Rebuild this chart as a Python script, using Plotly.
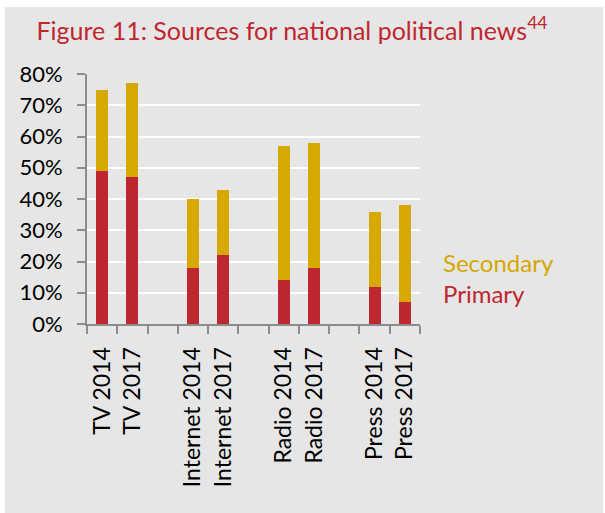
import plotly.graph_objects as go

categories = ["TV 2014", "TV 2017", "", "Internet 2014", "Internet 2017", "",
              "Radio 2014", "Radio 2017", "", "Press 2014", "Press 2017"]
primary = [49, 47, None, 18, 22, None, 14, 18, None, 12, 7]
secondary = [26, 30, None, 22, 21, None, 43, 40, None, 24, 31]
y_ticks = [0, 10, 20, 30, 40, 50, 60, 70, 80]
y_labels = [f"{v}%" for v in y_ticks]

positions = list(range(len(categories)))
label_pos = [p for p, c in zip(positions, categories) if c]
label_txt = [c for c in categories if c]

RED = "#BE2630"
GOLD = "#D6A800"
FONT = "Lato"

fig = go.Figure()
fig.add_trace(go.Bar(x=positions, y=primary, name="Primary", marker_color=RED,
                     width=0.4, marker_line_width=0))
fig.add_trace(go.Bar(x=positions, y=secondary, name="Secondary", marker_color=GOLD,
                     width=0.4, marker_line_width=0))

L, R, T, B = 87, 420, 74, 324
W, H = 605, 513
pw, ph = R - L, B - T

def px(x):
    return (x - L) / pw

def py(y):
    return (B - y) / ph

fig.add_shape(type="rect", xref="paper", yref="paper",
              x0=px(5), x1=px(603), y0=py(513), y1=py(7),
              fillcolor="#E6E6E6", line_width=0, layer="below")

fig.add_annotation(xref="paper", yref="paper", x=px(441), y=py(262), text="Secondary",
                   showarrow=False, xanchor="left", yanchor="middle",
                   font=dict(family=FONT, size=24, color=GOLD))
fig.add_annotation(xref="paper", yref="paper", x=px(441), y=py(293), text="Primary",
                   showarrow=False, xanchor="left", yanchor="middle",
                   font=dict(family=FONT, size=24, color=RED))

fig.update_layout(
    width=W, height=H,
    barmode="stack",
    showlegend=False,
    paper_bgcolor="white",
    plot_bgcolor="rgba(0,0,0,0)",
    margin=dict(l=L, r=W - R, t=T, b=H - B, pad=0),
    font=dict(family=FONT, size=20, color="black"),
    title=dict(text="Figure 11: Sources for national political news<sup>44</sup>",
               xref="container", yref="container", x=292 / W, y=1 - 31 / H,
               xanchor="center", yanchor="middle",
               font=dict(family=FONT, size=25, color="#C0272D")),
    xaxis=dict(range=[-0.5, len(categories) - 0.5],
               tickvals=label_pos, ticktext=label_txt, ticks="",
               minor=dict(tick0=-0.5, dtick=1, ticks="outside", ticklen=8,
                          tickwidth=2, tickcolor="#8C8C8C", showgrid=False),
               showline=True, linecolor="#8C8C8C", linewidth=2,
               showgrid=False, zeroline=False, tickangle=-90, ticklabelstandoff=12,
               tickfont=dict(family=FONT, size=23, color="black")),
    yaxis=dict(range=[0, 80], tickvals=y_ticks, ticktext=y_labels,
               ticks="outside", ticklen=8, tickwidth=2, tickcolor="#8C8C8C",
               showline=True, linecolor="#8C8C8C", linewidth=2,
               showgrid=True, gridcolor="white", gridwidth=2, zeroline=False,
               ticklabelstandoff=10,
               tickfont=dict(family=FONT, size=22, color="black")),
)

fig.write_html("out.html", config={"displayModeBar": False},
               post_script="document.body.style.margin='0';document.body.style.padding='0';")
